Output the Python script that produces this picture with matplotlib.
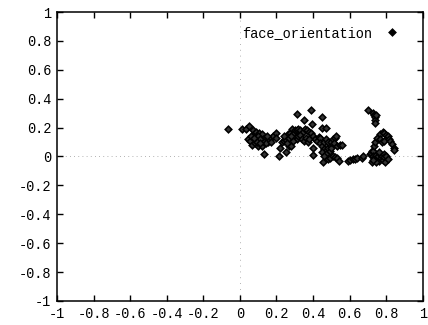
import matplotlib
matplotlib.use("Agg")
import matplotlib.pyplot as plt

plt.rcParams['font.family'] = ['Liberation Mono', 'DejaVu Sans Mono']
plt.rcParams['axes.unicode_minus'] = False

# face orientation samples
x_vals = [
    -0.067, 0.013, 0.031, 0.05, 0.07, 0.08, 0.09, 0.105, 0.12,
    0.045, 0.055, 0.065, 0.08, 0.1, 0.12, 0.125, 0.14, 0.145, 0.155, 0.16, 0.17, 0.18, 0.195, 0.2,
    0.13, 0.09, 0.1, 0.11, 0.13, 0.14, 0.15, 0.17, 0.06, 0.075, 0.095, 0.11,
    0.215, 0.22, 0.23, 0.24, 0.245, 0.255, 0.265, 0.275, 0.285, 0.29, 0.3, 0.31, 0.32, 0.33,
    0.345, 0.355, 0.365, 0.375, 0.39, 0.4, 0.41, 0.42, 0.43, 0.44,
    0.25, 0.27, 0.28, 0.26, 0.3, 0.31, 0.32, 0.33, 0.34, 0.35, 0.36, 0.37, 0.38, 0.24, 0.27, 0.29, 0.28,
    0.31, 0.35, 0.39, 0.395, 0.45, 0.45, 0.47, 0.40, 0.40,
    0.44, 0.45, 0.46, 0.47, 0.48, 0.49, 0.46, 0.47, 0.48, 0.45, 0.47, 0.46, 0.49, 0.5, 0.5,
    0.51, 0.52, 0.525, 0.515, 0.53, 0.545, 0.56,
    0.455, 0.48, 0.49, 0.51, 0.52, 0.53, 0.54,
    0.59, 0.6, 0.62, 0.63, 0.64, 0.67, 0.675,
    0.70, 0.73, 0.735, 0.74, 0.737, 0.74, 0.745,
    0.71, 0.715, 0.72, 0.72, 0.73, 0.735, 0.74, 0.75, 0.765, 0.78, 0.79, 0.8, 0.81, 0.815,
    0.765, 0.775, 0.79, 0.82, 0.83, 0.84, 0.84,
    0.725, 0.735, 0.745, 0.75, 0.755, 0.76, 0.765, 0.77, 0.775, 0.78, 0.785, 0.79, 0.795,
    0.8, 0.81, 0.745, 0.73, 0.76,
]
y_vals = [
    0.19, 0.19, 0.19, 0.21, 0.18, 0.165, 0.17, 0.16, 0.155,
    0.12, 0.11, 0.08, 0.09, 0.075, 0.07, 0.12, 0.13, 0.11, 0.1, 0.12, 0.13, 0.14, 0.16, 0.13,
    0.015, 0.13, 0.14, 0.12, 0.1, 0.09, 0.14, 0.1, 0.14, 0.13, 0.1, 0.095,
    0.005, 0.06, 0.1, 0.11, 0.12, 0.14, 0.155, 0.165, 0.19, 0.155, 0.18, 0.185, 0.19, 0.18,
    0.17, 0.19, 0.18, 0.17, 0.16, 0.14, 0.12, 0.11, 0.135, 0.13,
    0.03, 0.075, 0.075, 0.09, 0.13, 0.12, 0.14, 0.15, 0.12, 0.11, 0.13, 0.1, 0.12, 0.14, 0.13, 0.11, 0.14,
    0.295, 0.25, 0.32, 0.225, 0.27, 0.2, 0.2, 0.06, 0.01,
    0.09, 0.07, 0.05, 0.04, 0.06, 0.08, 0.1, 0.12, 0.1, 0.03, 0.015, 0.0, 0.035, 0.06, 0.1,
    0.12, 0.13, 0.14, 0.09, 0.075, 0.08, 0.08,
    -0.04, -0.02, -0.01, 0.0, -0.005, -0.01, -0.03,
    -0.03, -0.025, -0.02, -0.015, -0.012, -0.01, 0.0,
    0.32, 0.30, 0.285, 0.27, 0.25, 0.235, 0.29,
    0.02, 0.025, 0.035, -0.035, 0.04, 0.075, 0.1, 0.13, 0.155, 0.17, 0.16, 0.15, 0.14, 0.12,
    0.12, 0.1, 0.11, 0.11, 0.085, 0.06, 0.045,
    0.0, -0.01, 0.01, -0.02, 0.0, -0.03, 0.015, -0.01, 0.005, -0.025, 0.02, -0.005, -0.035,
    0.0, -0.02, -0.04, -0.025, 0.03,
]
ticks = [-1, -0.8, -0.6, -0.4, -0.2, 0, 0.2, 0.4, 0.6, 0.8, 1]
tick_labels = ['-1', '-0.8', '-0.6', '-0.4', '-0.2', '0', '0.2', '0.4', '0.6', '0.8', '1']

fig = plt.figure(figsize=(4.28, 3.25), dpi=100)
ax = fig.add_axes([0.133, 0.074, 0.855, 0.889])

# dotted zero axes
ax.axhline(0, color='#999999', lw=0.6, ls=(0, (1, 4)), zorder=1)
ax.axvline(0, color='#999999', lw=0.6, ls=(0, (1, 6)), zorder=1)

ax.plot(x_vals, y_vals, ls='none', marker='D', ms=3.4, mfc='#333333', mec='black',
        mew=1.1, label='face_orientation', zorder=3)

ax.set_xlim(-1, 1)
ax.set_ylim(-1, 1)
ax.set_xticks(ticks)
ax.set_xticklabels(tick_labels)
ax.set_yticks(ticks)
ax.set_yticklabels(tick_labels)
ax.tick_params(direction='in', top=True, right=True, length=4, width=1, labelsize=9.8, pad=4)
for s in ax.spines.values():
    s.set_linewidth(1.1)

leg = ax.legend(loc='upper right', bbox_to_anchor=(0.965, 0.985), markerfirst=False, frameon=False,
                handlelength=1.2, handletextpad=0.9, fontsize=9.8, borderaxespad=0.3)
leg.legend_handles[0].set_markerfacecolor('black')

fig.savefig('out.png', dpi=100)
